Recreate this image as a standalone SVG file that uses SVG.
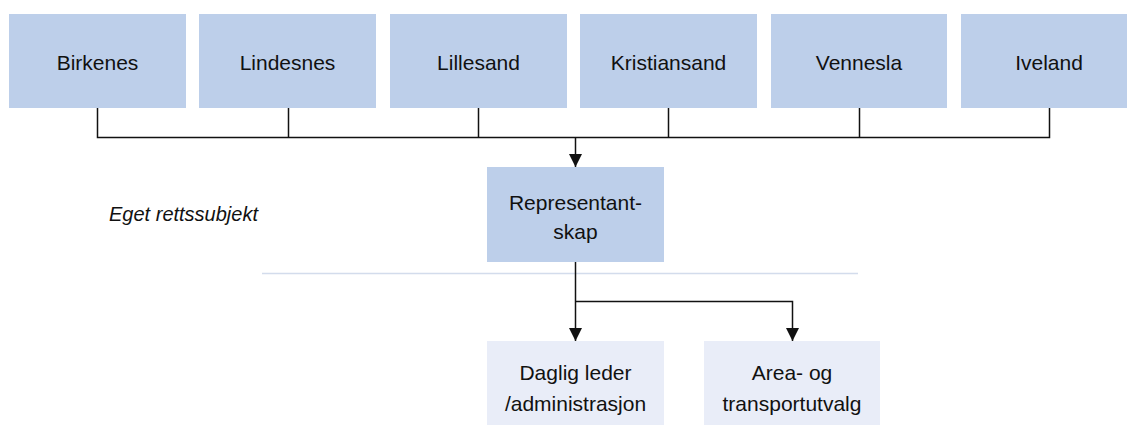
<svg xmlns="http://www.w3.org/2000/svg" width="1127" height="427" viewBox="0 0 1127 427">
<style>
.top{fill:#BDCFEA}
.sub{fill:#E9EDF8}
.t{font-family:"Liberation Sans",Arial,sans-serif;font-size:21px;fill:#111;text-anchor:middle}
.c{fill:none;stroke:#111;stroke-width:1.5}
</style>
<defs>
<marker id="ah" markerWidth="13" markerHeight="13" refX="13" refY="6.5" orient="auto" markerUnits="userSpaceOnUse" viewBox="0 0 13 13">
<path d="M0,0 L13,6.5 L0,13 z" fill="#111"/>
</marker>
</defs>
<rect width="1127" height="427" fill="#fff"/>
<g id="birkenes"><rect class="top" x="9" y="14" width="177" height="94"/><text class="t" x="97.5" y="70">Birkenes</text></g>
<g id="lindesnes"><rect class="top" x="199" y="14" width="177" height="94"/><text class="t" x="287.5" y="70">Lindesnes</text></g>
<g id="lillesand"><rect class="top" x="390" y="14" width="177" height="94"/><text class="t" x="478.5" y="70">Lillesand</text></g>
<g id="kristiansand"><rect class="top" x="580" y="14" width="177" height="94"/><text class="t" x="668.5" y="70">Kristiansand</text></g>
<g id="vennesla"><rect class="top" x="771" y="14" width="176" height="94"/><text class="t" x="859" y="70">Vennesla</text></g>
<g id="iveland"><rect class="top" x="961" y="14" width="166" height="94"/><text class="t" x="1049" y="70">Iveland</text></g>
<g id="representantskap"><rect class="top" x="487" y="167" width="177" height="95"/><text class="t" x="575.5" y="210">Representant-</text><text class="t" x="575.5" y="239">skap</text></g>
<g id="eget"><text class="t" x="183.5" y="221" style="font-style:italic;font-size:20px">Eget rettssubjekt</text></g>
<line x1="262" y1="273.5" x2="858" y2="273.5" stroke="#D3DCEC" stroke-width="1.5"/>
<g id="daglig"><rect class="sub" x="487" y="341" width="177" height="84"/><text class="t" x="575.5" y="380">Daglig leder</text><text class="t" x="575.5" y="411">/administrasjon</text></g>
<g id="area"><rect class="sub" x="704" y="341" width="176" height="84"/><text class="t" x="792" y="380">Area- og</text><text class="t" x="792" y="411">transportutvalg</text></g>
<g id="connectors">
<path class="c" d="M97.5,108 V137.5 H1049.5 V108 M288.5,108 V137.5 M478.5,108 V137.5 M668.5,108 V137.5 M859.5,108 V137.5"/>
<path class="c" d="M575.5,137.5 V167" marker-end="url(#ah)"/>
<path class="c" d="M575.5,262 V341" marker-end="url(#ah)"/>
<path class="c" d="M575.5,301.5 H792.5 V341" marker-end="url(#ah)"/>
</g>
</svg>
